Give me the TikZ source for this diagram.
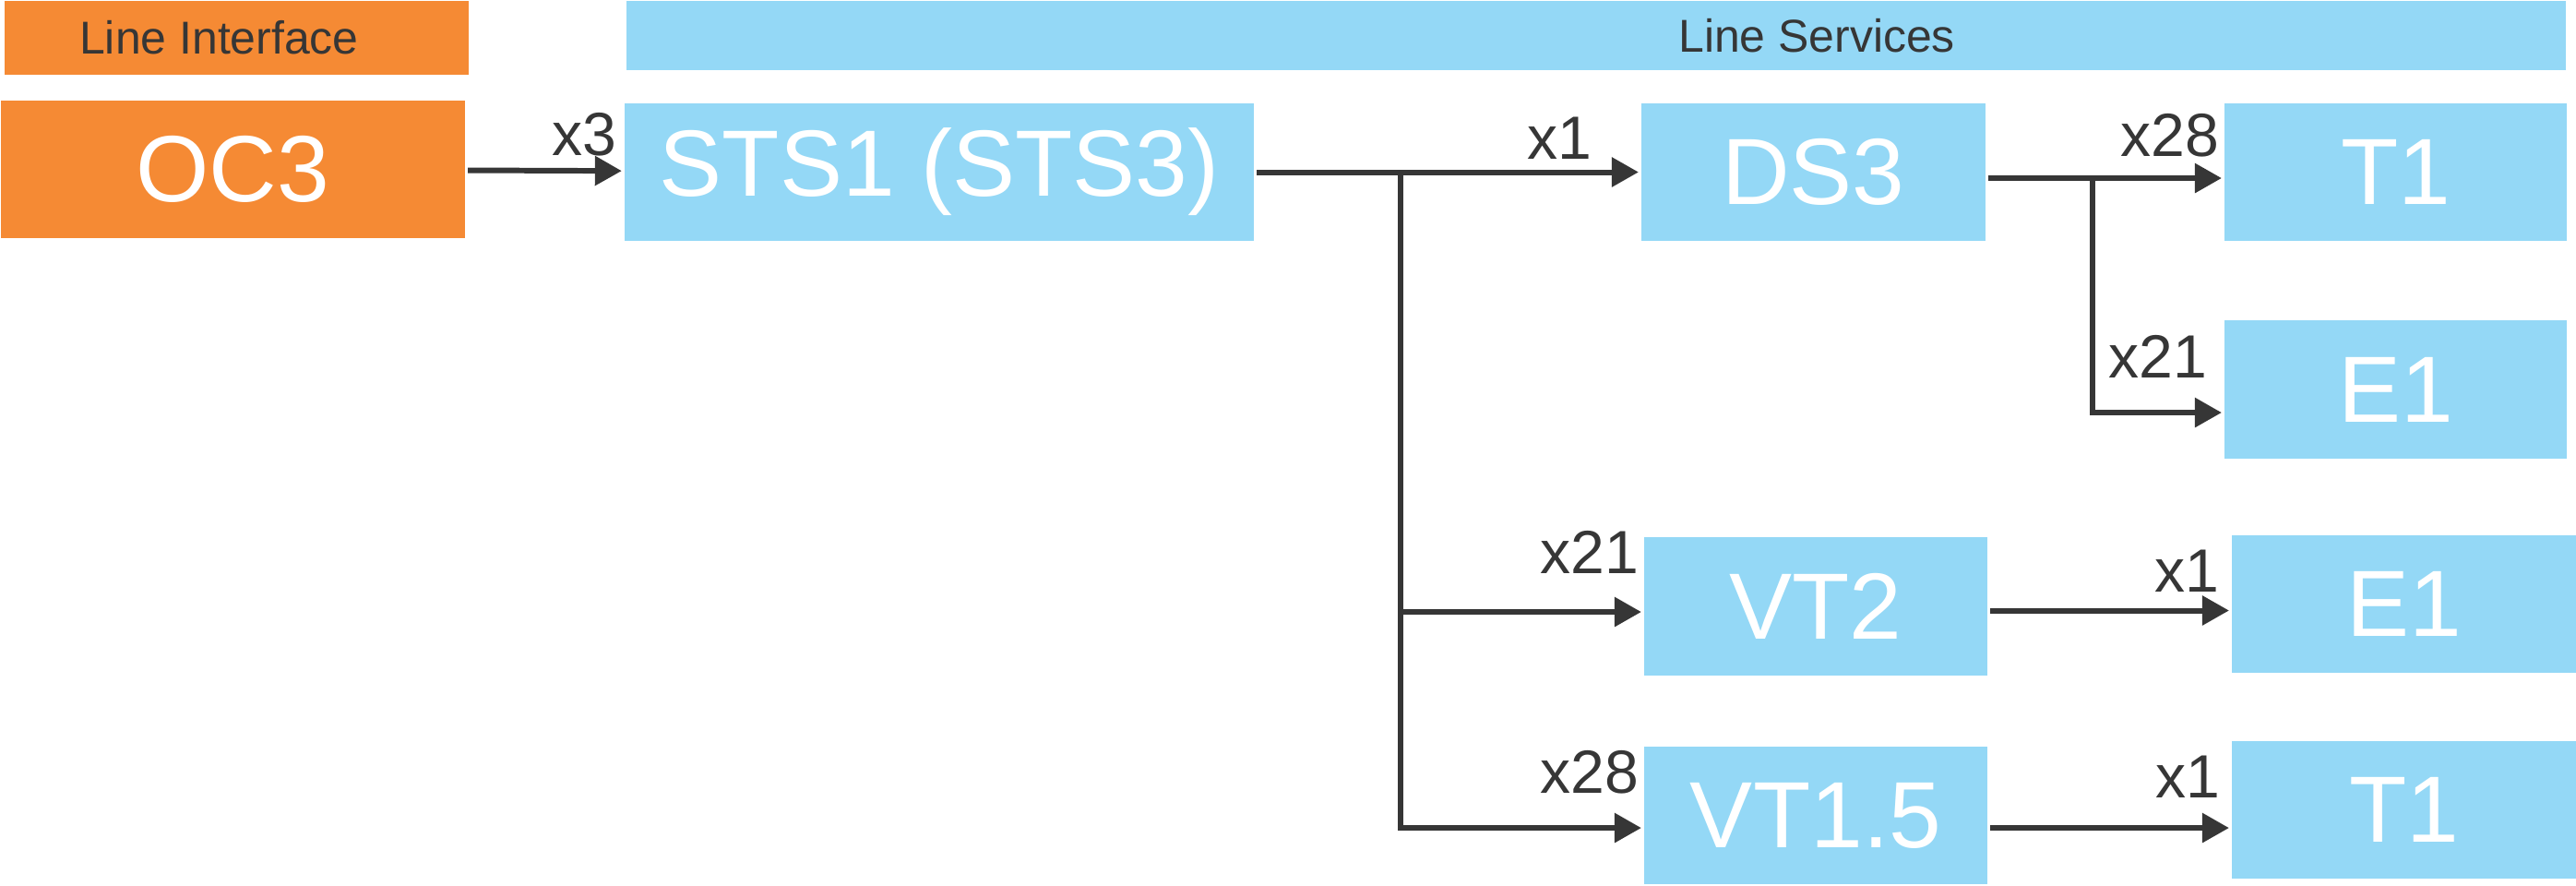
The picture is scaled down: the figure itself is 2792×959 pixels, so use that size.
\documentclass[tikz,border=0pt]{standalone}
\usepackage{fontspec}
\setmainfont{Liberation Sans}
\usetikzlibrary{arrows.meta}

\definecolor{ifcolor}{HTML}{F58A34}
\definecolor{svccolor}{HTML}{94D8F6}
\definecolor{linecolor}{HTML}{363636}

\tikzset{
  box/.style     = {inner sep=0pt, text=white, font=\fontsize{29}{34}\selectfont},
  ifbox/.style   = {box, fill=ifcolor},
  svcbox/.style  = {box, fill=svccolor, minimum width=3.72cm, minimum height=1.49cm},
  headtext/.style= {text=linecolor, font=\fontsize{14.2}{17}\selectfont},
  mult/.style    = {pos=1, anchor=south east, inner sep=0pt, text=linecolor,
                    font=\fontsize{18.8}{22}\selectfont},
}

\begin{document}
\begin{tikzpicture}[x=0.01cm, y=-0.01cm, line width=1.7pt, draw=linecolor,
                    >={Triangle[length=2.9mm,width=3.1mm]}]
\useasboundingbox (0,0) rectangle (2792,959);

% headers
\node [ifbox, minimum width=5.03cm, minimum height=0.8cm,
       label={[headtext, xshift=-0.19cm]center:Line Interface}] (hdrif)  at (256.5,41) {};
\node [box, fill=svccolor, minimum width=21cm, minimum height=0.75cm,
       label={[headtext, xshift=2.39cm]center:Line Services}]  (hdrsvc) at (1730,38.5) {};

% boxes
\node [ifbox, minimum width=5.03cm, minimum height=1.49cm] (oc3) at (252.5,183.5) {OC3};
\node [svcbox, minimum width=6.82cm] (sts)       at (1018,186.5)   {STS1 (STS3)};
\node [svcbox, minimum width=3.73cm] (ds3)       at (1965.5,186.5) {DS3};
\node [svcbox, minimum width=3.71cm] (tone)      at (2596.5,186.5) {T1};
\node [svcbox, minimum width=3.71cm] (eone)      at (2596.5,422)   {E1};
\node [svcbox]                       (vttwo)     at (1968,657)     {VT2};
\node [svcbox, minimum width=3.73cm] (eonb)      at (2605.5,654.5) {E1};
\node [svcbox]                       (vtonefive) at (1968,883.5)   {VT1.5};
\node [svcbox, minimum width=3.73cm] (tonb)      at (2605.5,877.5) {T1};

\coordinate (split)  at ([xshift=1.56cm]sts.east);
\coordinate (dsplit) at ([xshift=1.13cm, yshift=-.065cm]ds3.east);

% connectors
\draw[->] (oc3) -- node[mult, xshift=-.03cm, yshift=.13cm] (moc) {x3} (sts);
\draw[->] (sts) -- node[mult, xshift=-.48cm, yshift=.11cm] (msts) {x1} (ds3);
\draw[->] (split) |- node[mult, yshift=.39cm] (mvttwo) {x21} ([yshift=-.06cm]vttwo.west);
\draw[->] (split) |- node[mult, yshift=.34cm] (mvtonefive) {x28} ([yshift=-.135cm]vtonefive.west);

\draw[->] ([yshift=-.065cm]ds3.east) -- node[mult, yshift=.2cm] (mtone) {x28} ([yshift=-.065cm]tone.west);
\draw[->] (dsplit) |- node[mult, xshift=-.13cm, yshift=.35cm] (meone) {x21} ([yshift=-.25cm]eone.west);

\draw[->] ([yshift=-.045cm]vttwo.east) -- node[mult, xshift=-.08cm, yshift=.17cm] (meonb) {x1} ([yshift=-.045cm]vttwo.east -| eonb.west);
\draw[->] ([yshift=-.135cm]vtonefive.east) -- node[mult, xshift=-.07cm, yshift=.3cm] (mtonb) {x1} ([yshift=-.135cm]vtonefive.east -| tonb.west);
\end{tikzpicture}
\end{document}
